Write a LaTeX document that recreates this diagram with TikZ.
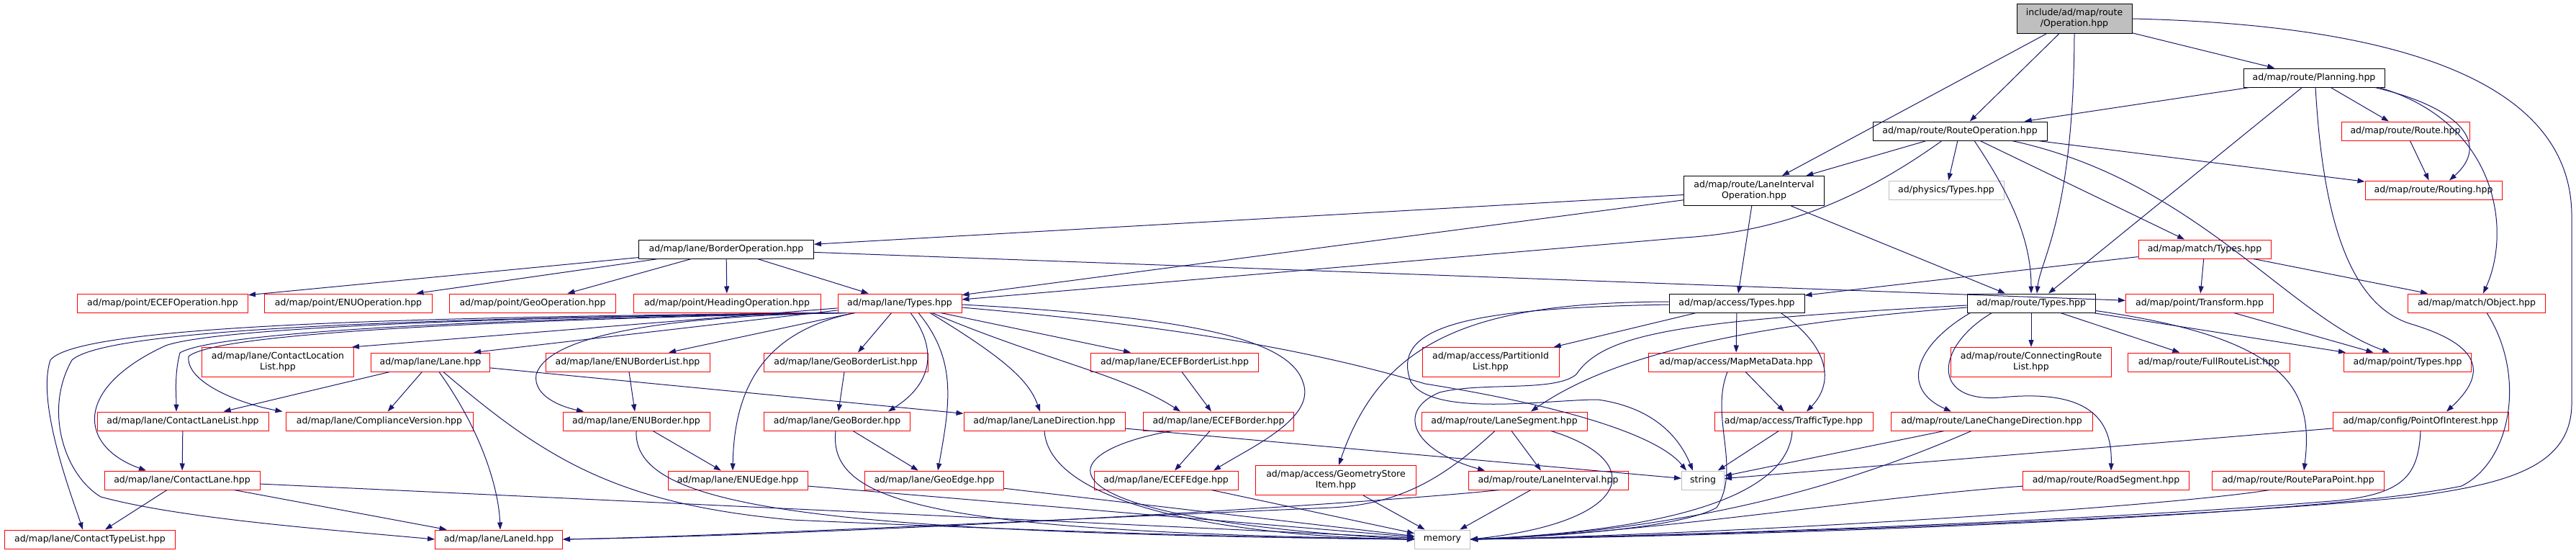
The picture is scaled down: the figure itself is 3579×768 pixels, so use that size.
\documentclass[tikz,border=0pt]{standalone}
\usepackage{fontspec}
\setmainfont{DejaVu Sans}
\usetikzlibrary{arrows.meta}
\definecolor{edgeblue}{HTML}{191970}
\definecolor{nodegray}{HTML}{BFBFBF}
\definecolor{nodered}{HTML}{FF0000}
\begin{document}
\begin{tikzpicture}[x=1pt,y=-1pt,
  box/.style={draw, fill=white, line width=1pt, minimum height=26pt, inner xsep=6pt, inner ysep=3pt, align=center, font=\fontsize{12.5}{15}\selectfont},
  rbox/.style={box, draw=nodered},
  bbox/.style={box, draw=black},
  gbox/.style={box, draw=nodegray},
  two/.style={minimum height=41pt},
  dep/.style={draw=edgeblue, line width=1pt, -{Triangle[length=10pt,width=7pt]}}
]
\useasboundingbox (0,0) rectangle (3579,768);
\fill[white] (0,0) rectangle (3579,768);
% row 0-4
\node[bbox, two, fill=nodegray, minimum width=160pt] (op) at (2882,26) {include/ad/map/route\\/Operation.hpp};
\node[bbox, minimum width=196pt] (pl) at (3215,108) {ad/map/route/Planning.hpp};
\node[bbox, minimum width=242pt] (ro) at (2723,182) {ad/map/route/RouteOperation.hpp};
\node[rbox, minimum width=178pt] (route) at (3342,182) {ad/map/route/Route.hpp};
\node[bbox, two, minimum width=195pt] (lio) at (2437,265) {ad/map/route/LaneInterval\\Operation.hpp};
\node[gbox, minimum width=160pt] (phys) at (2704,264) {ad/physics/Types.hpp};
\node[rbox, minimum width=190pt] (routing) at (3381,264) {ad/map/route/Routing.hpp};
\node[bbox, minimum width=243pt] (bo) at (1009,346) {ad/map/lane/BorderOperation.hpp};
\node[rbox, minimum width=184pt] (mt) at (3063,346) {ad/map/match/Types.hpp};
% row 5
\node[rbox, minimum width=237pt] (ecefop) at (226,421) {ad/map/point/ECEFOperation.hpp};
\node[rbox, minimum width=233pt] (enuop) at (484,421) {ad/map/point/ENUOperation.hpp};
\node[rbox, minimum width=231pt] (geoop) at (740,421) {ad/map/point/GeoOperation.hpp};
\node[rbox, minimum width=260pt] (headop) at (1010,421) {ad/map/point/HeadingOperation.hpp};
\node[rbox, minimum width=172pt] (lt) at (1250,421) {ad/map/lane/Types.hpp};
\node[bbox, minimum width=188pt] (at) at (2413,421) {ad/map/access/Types.hpp};
\node[bbox, minimum width=178pt] (rt) at (2822,421) {ad/map/route/Types.hpp};
\node[rbox, minimum width=205pt] (tf) at (3056,421) {ad/map/point/Transform.hpp};
\node[rbox, minimum width=191pt] (mo) at (3441,421) {ad/map/match/Object.hpp};
% row 6
\node[rbox, two, minimum width=211pt] (cll) at (386,503) {ad/map/lane/ContactLocation\\List.hpp};
\node[rbox, minimum width=165pt] (lane) at (598,503) {ad/map/lane/Lane.hpp};
\node[rbox, minimum width=228pt] (enubl) at (872,503) {ad/map/lane/ENUBorderList.hpp};
\node[rbox, minimum width=228pt] (geobl) at (1175,503) {ad/map/lane/GeoBorderList.hpp};
\node[rbox, minimum width=233pt] (ecefbl) at (1632,503) {ad/map/lane/ECEFBorderList.hpp};
\node[rbox, two, minimum width=190pt] (pid) at (2071,503) {ad/map/access/PartitionId\\List.hpp};
\node[rbox, minimum width=244pt] (mmd) at (2412,503) {ad/map/access/MapMetaData.hpp};
\node[rbox, two, minimum width=223pt] (crl) at (2822,503) {ad/map/route/ConnectingRoute\\List.hpp};
\node[rbox, minimum width=225pt] (frl) at (3069,503) {ad/map/route/FullRouteList.hpp};
\node[rbox, minimum width=177pt] (pt) at (3345,503) {ad/map/point/Types.hpp};
% row 7
\node[rbox, minimum width=238pt] (clist) at (254,585) {ad/map/lane/ContactLaneList.hpp};
\node[rbox, minimum width=260pt] (cv) at (527,585) {ad/map/lane/ComplianceVersion.hpp};
\node[rbox, minimum width=204pt] (enub) at (884,585) {ad/map/lane/ENUBorder.hpp};
\node[rbox, minimum width=203pt] (geob) at (1163,585) {ad/map/lane/GeoBorder.hpp};
\node[rbox, minimum width=224pt] (ld) at (1451,585) {ad/map/lane/LaneDirection.hpp};
\node[rbox, minimum width=209pt] (ecefb) at (1693,585) {ad/map/lane/ECEFBorder.hpp};
\node[rbox, minimum width=230pt] (ls) at (2090,585) {ad/map/route/LaneSegment.hpp};
\node[rbox, minimum width=220pt] (tt) at (2492,585) {ad/map/access/TrafficType.hpp};
\node[rbox, minimum width=280pt] (lcd) at (2767,585) {ad/map/route/LaneChangeDirection.hpp};
\node[rbox, minimum width=244pt] (poi) at (3363,585) {ad/map/config/PointOfInterest.hpp};
% row 8
\node[rbox, minimum width=216pt] (cl) at (253,667) {ad/map/lane/ContactLane.hpp};
\node[rbox, minimum width=194pt] (enue) at (1025,667) {ad/map/lane/ENUEdge.hpp};
\node[rbox, minimum width=193pt] (geoe) at (1298,667) {ad/map/lane/GeoEdge.hpp};
\node[rbox, minimum width=200pt] (ecefe) at (1620,667) {ad/map/lane/ECEFEdge.hpp};
\node[rbox, two, minimum width=223pt] (gsi) at (1856,667) {ad/map/access/GeometryStore\\Item.hpp};
\node[rbox, minimum width=222pt] (li) at (2151,667) {ad/map/route/LaneInterval.hpp};
\node[gbox, minimum width=59pt] (str) at (2366,667) {string};
\node[rbox, minimum width=231pt] (rs) at (2926,667) {ad/map/route/RoadSegment.hpp};
\node[rbox, minimum width=239pt] (rpp) at (3193,667) {ad/map/route/RouteParaPoint.hpp};
% row 9
\node[rbox, minimum width=237pt] (ctl) at (125,749) {ad/map/lane/ContactTypeList.hpp};
\node[rbox, minimum width=177pt] (lid) at (693,749) {ad/map/lane/LaneId.hpp};
\node[gbox, minimum width=77pt] (mem) at (2004,749) {memory};

% ---- edges: Operation
\draw[dep] (op) -- (pl);
\draw[dep] (op) -- (ro);
\draw[dep] (op) -- (lio);
\draw[dep] (op.south) .. controls (2881,300) and (2835,360) .. ([xshift=8pt]rt.north);
\draw[dep] (op.east) .. controls (3350,35) and (3573,120) .. (3573,300) -- (3573,560) .. controls (3573,650) and (3480,672) .. (3350,690) .. controls (3000,725) and (2300,745) .. (mem.east);
% Planning
\draw[dep] (pl) -- (ro);
\draw[dep] (pl) -- (route);
\draw[dep] (pl) -- ([xshift=24pt]rt.north);
\draw[dep] ([xshift=-14pt]pl.south east) .. controls (3420,150) and (3460,200) .. ([xshift=22pt]routing.north);
\draw[dep] ([xshift=-8pt]pl.south east) .. controls (3470,170) and (3490,320) .. ([xshift=9pt]mo.north);
\draw[dep] ([xshift=2pt]pl.south) .. controls (3225,260) and (3250,420) .. (3350,450) .. controls (3450,480) and (3455,520) .. ([xshift=36pt]poi.north);
% RouteOperation
\draw[dep] (ro) -- (lio);
\draw[dep] (ro) -- (phys);
\draw[dep] (ro) -- (routing);
\draw[dep] (ro) -- (mt);
\draw[dep] ([xshift=20pt]ro.south) .. controls (2800,280) and (2822,340) .. (rt.north);
\draw[dep] ([xshift=72pt]ro.south) .. controls (3050,250) and (3180,440) .. ([xshift=-25pt]pt.north);
\draw[dep] ([xshift=-25pt]ro.south) .. controls (2580,280) and (2470,322) .. (2340,330) -- ([yshift=5pt]lt.east);
\draw[dep] (route) -- (routing);
% LaneIntervalOperation
\draw[dep] (lio) -- (bo);
\draw[dep] (lio) -- (lt);
\draw[dep] (lio) -- (at);
\draw[dep] (lio) -- ([xshift=-36pt]rt.north);
% BorderOperation
\draw[dep] (bo) -- (ecefop);
\draw[dep] (bo) -- (enuop);
\draw[dep] (bo) -- (geoop);
\draw[dep] (bo) -- (headop);
\draw[dep] (bo) -- (lt);
\draw[dep] (bo) -- (tf);
% match
\draw[dep] (mt) -- (at);
\draw[dep] (mt) -- (tf);
\draw[dep] (mt) -- (mo);
\draw[dep] (tf) -- (pt);
\draw[dep] ([xshift=14pt]mo.south) .. controls (3510,520) and (3490,640) .. (3420,675) .. controls (3200,720) and (2400,745) .. (mem.east);
% route/Types
\draw[dep] (rt) -- (crl);
\draw[dep] (rt) -- (frl);
\draw[dep] (rt) -- (pt);
\draw[dep] ([xshift=5pt]rt.south west) .. controls (2660,480) and (2640,540) .. ([xshift=-56pt]lcd.north);
\draw[dep] ([xshift=35pt]rt.south west) .. controls (2690,480) and (2680,560) .. (2780,552) .. controls (2900,540) and (2935,580) .. ([xshift=7pt]rs.north);
\draw[dep] ([yshift=3pt]rt.south east) .. controls (3180,470) and (3215,540) .. ([xshift=8pt]rpp.north);
\draw[dep] ([yshift=-6pt]rt.west) .. controls (2400,452) and (2230,500) .. ([xshift=37pt]ls.north);
\draw[dep] ([yshift=-3pt]rt.west) .. controls (2350,445) and (2230,460) .. (2190,520) .. controls (2160,545) and (2060,530) .. (2000,545) .. controls (1940,570) and (1960,625) .. ([xshift=-88pt]li.north);
% access/Types
\draw[dep] (at) -- (pid);
\draw[dep] (at) -- (mmd);
\draw[dep] ([xshift=61pt]at.south) .. controls (2540,480) and (2550,530) .. ([xshift=18pt]tt.north);
\draw[dep] ([yshift=2pt]at.west) .. controls (2050,420) and (1920,470) .. ([xshift=4pt]gsi.north);
\draw[dep] ([yshift=-2pt]at.west) .. controls (2050,428) and (1930,450) .. (1960,530) .. controls (1990,580) and (2150,555) .. (2220,555) .. controls (2290,565) and (2330,600) .. ([xshift=-14pt]str.north);
\draw[dep] (mmd) -- (tt);
\draw[dep] ([xshift=-12pt]mmd.south) .. controls (2375,580) and (2420,650) .. (2385,705) .. controls (2330,735) and (2150,745) .. (mem.east);
\draw[dep] (tt) -- (str);
\draw[dep] ([xshift=-2pt]tt.south) .. controls (2485,680) and (2350,735) .. (mem.east);
\draw[dep] (lcd) -- (str);
\draw[dep] ([xshift=-28pt]lcd.south) .. controls (2620,650) and (2400,735) .. (mem.east);
\draw[dep] (rs) .. controls (2600,690) and (2300,740) .. (mem.east);
\draw[dep] ([xshift=-40pt]rpp.south) .. controls (3000,705) and (2400,742) .. (mem.east);
\draw[dep] (poi) -- (str);
\draw[dep] (poi.south) .. controls (3360,660) and (3340,685) .. (3250,695) .. controls (2900,725) and (2300,745) .. (mem.east);
% LaneSegment / LaneInterval
\draw[dep] (ls) -- (li);
\draw[dep] ([xshift=65pt]ls.south) .. controls (2290,640) and (2270,725) .. (mem.east);
\draw[dep] ([xshift=-13pt]ls.south) .. controls (2010,660) and (1950,700) .. (1850,705) .. controls (1500,720) and (1000,745) .. (lid.east);
\draw[dep] ([xshift=-68pt]li.south) .. controls (1900,700) and (1200,742) .. (lid.east);
\draw[dep] (li) -- (mem);
\draw[dep] (gsi) -- (mem);
% lane borders
\draw[dep] (ld) -- (str);
\draw[dep] (ld.south) .. controls (1458,700) and (1700,745) .. (mem.west);
\draw[dep] (ecefbl) -- (ecefb);
\draw[dep] (ecefb) -- (ecefe);
\draw[dep] (ecefe) -- (mem);
\draw[dep] ([xshift=-65pt]ecefb.south) .. controls (1450,630) and (1430,720) .. (mem.west);
\draw[dep] (geobl) -- (geob);
\draw[dep] (geob) -- (geoe);
\draw[dep] (geoe) -- (mem);
\draw[dep] ([xshift=-2pt]geob.south) .. controls (1150,700) and (1300,738) .. (mem.west);
\draw[dep] (enubl) -- (enub);
\draw[dep] (enub) -- (enue);
\draw[dep] (enue) -- (mem);
\draw[dep] (enub.south) .. controls (880,700) and (1100,740) .. (mem.west);
% Lane
\draw[dep] (lane) -- (clist);
\draw[dep] (lane) -- (cv);
\draw[dep] (lane) -- (ld);
\draw[dep] ([xshift=12pt]lane.south) .. controls (670,600) and (693,680) .. ([xshift=2pt]lid.north);
\draw[dep] ([xshift=18pt]lane.south) .. controls (760,640) and (860,700) .. (1100,722) .. controls (1500,740) and (1800,748) .. (mem.west);
\draw[dep] (clist) -- (cl);
\draw[dep] (cl) -- (ctl);
\draw[dep] (cl) -- (lid);
\draw[dep] (cl) -- (mem);
% lane/Types
\draw[dep] (lt) -- ([xshift=-3pt]cll.north east);
\draw[dep] (lt) -- ([xshift=60pt]lane.north);
\draw[dep] (lt) -- ([xshift=57pt]enubl.north);
\draw[dep] (lt) -- ([xshift=17pt]geobl.north);
\draw[dep] ([xshift=57pt]lt.south) -- ([xshift=-61pt]ecefbl.north);
\draw[dep] ([xshift=4pt]lt.south west) .. controls (600,440) and (110,450) .. (70,500) .. controls (50,560) and (100,690) .. ([xshift=-10pt]ctl.north);
\draw[dep] ([xshift=6pt]lt.south west) .. controls (600,442) and (150,455) .. (100,500) .. controls (60,570) and (90,660) .. (140,690) .. controls (250,720) and (450,735) .. (lid.west);
\draw[dep] ([xshift=8pt]lt.south west) .. controls (700,440) and (300,455) .. (230,480) .. controls (100,540) and (110,620) .. ([xshift=-50pt]cl.north);
\draw[dep] ([xshift=10pt]lt.south west) .. controls (700,442) and (300,460) .. (250,490) .. controls (242,520) and (245,550) .. ([xshift=-9pt]clist.north);
\draw[dep] ([xshift=12pt]lt.south west) .. controls (700,444) and (300,462) .. (262,495) .. controls (258,530) and (330,560) .. ([xshift=-4pt]cv.north west);
\draw[dep] ([xshift=2pt]lt.south west) .. controls (900,440) and (760,470) .. (745,520) .. controls (740,550) and (780,565) .. ([xshift=-73pt]enub.north);
\draw[dep] ([xshift=-62pt]lt.south) .. controls (1060,460) and (1020,540) .. ([xshift=-7pt]enue.north);
\draw[dep] ([xshift=15pt]lt.south) .. controls (1300,480) and (1300,530) .. ([xshift=71pt]geob.north);
\draw[dep] ([xshift=26pt]lt.south) .. controls (1330,500) and (1320,560) .. ([xshift=5pt]geoe.north);
\draw[dep] ([xshift=42pt]lt.south) .. controls (1400,500) and (1430,530) .. ([xshift=-6pt]ld.north);
\draw[dep] ([xshift=45pt]lt.south) .. controls (1450,500) and (1560,520) .. ([xshift=-53pt]ecefb.north);
\draw[dep] ([yshift=-2pt]lt.east) .. controls (1650,440) and (1790,470) .. (1810,530) .. controls (1830,580) and (1740,620) .. ([xshift=66pt]ecefe.north);
\draw[dep] ([yshift=-6pt]lt.east) .. controls (1600,450) and (1800,480) .. (1980,533) .. controls (2150,560) and (2300,600) .. ([xshift=-23pt]str.north);
\end{tikzpicture}
\end{document}
